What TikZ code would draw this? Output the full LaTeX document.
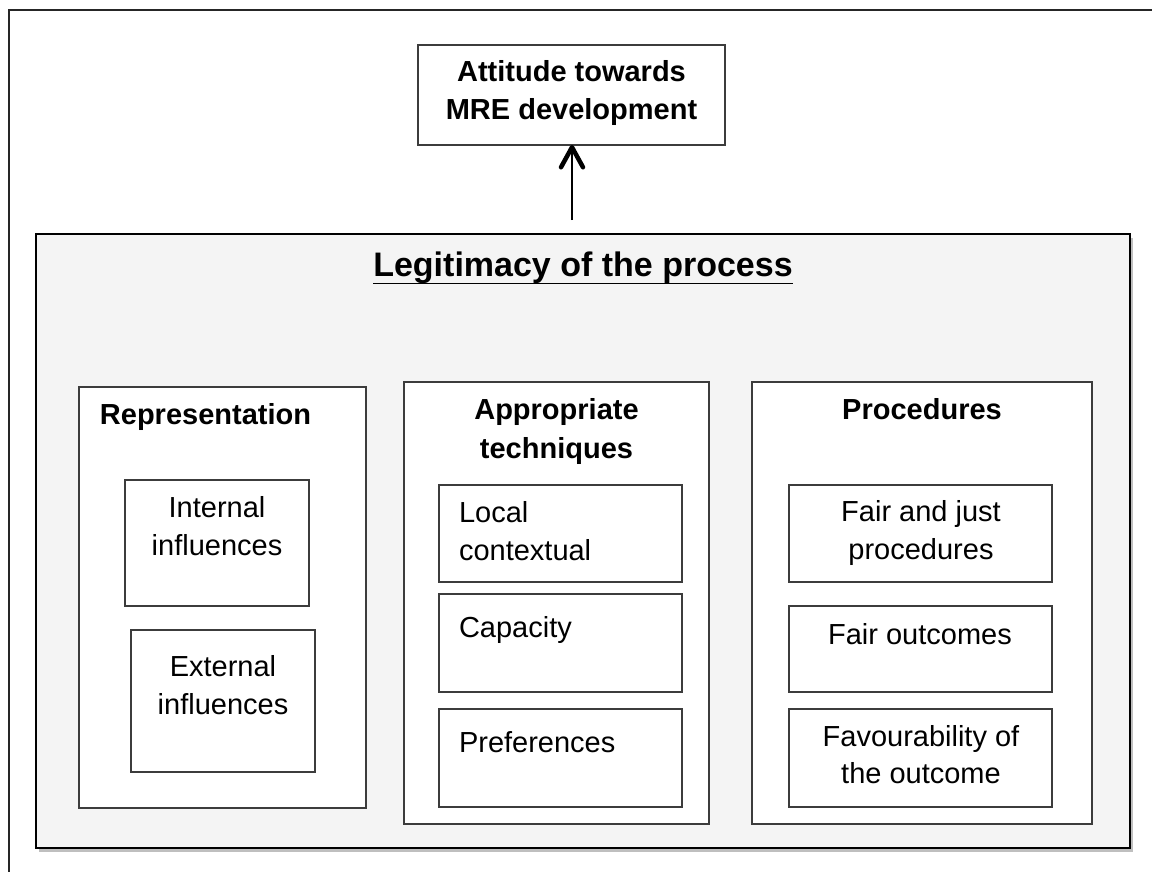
\documentclass[tikz,border=0pt]{standalone}
\usepackage{fontspec}
\setmainfont{Liberation Sans}
\usetikzlibrary{arrows.meta,shadows}
\definecolor{panelgray}{RGB}{244,244,244}
\definecolor{boxline}{RGB}{60,60,60}
\newcommand{\mylines}[2]{\begin{tabular}[t]{@{}#1@{}}#2\end{tabular}}
\begin{document}
\begin{tikzpicture}[x=1pt,y=-1pt,
  framestyle/.style={draw=black!85,line width=1.5pt},
  mainpanel/.style={draw=black,line width=2.4pt,fill=panelgray,inner sep=0pt,outer sep=0pt,anchor=north west,
    drop shadow={shadow xshift=3pt,shadow yshift=-4pt,opacity=0.45,fill=black!55}},
  colbox/.style={draw=boxline,line width=1.3pt,fill=white,inner sep=0pt,outer sep=0pt,anchor=north west},
  itembox/.style={draw=boxline,line width=1.3pt,fill=white,inner sep=0pt,outer sep=0pt,anchor=north west},
  topbox/.style={draw=boxline,line width=1.3pt,fill=white,inner sep=0pt,outer sep=0pt,anchor=north west},
  txt/.style={inner sep=0pt,outer sep=0pt,anchor=base,font=\fontsize{29}{38.5}\selectfont},
  txtl/.style={txt,anchor=base west},
  head/.style={txt,font=\fontsize{29}{39}\selectfont\bfseries},
  titletxt/.style={inner sep=0pt,outer sep=0pt,anchor=base,font=\fontsize{34}{40}\selectfont\bfseries},
  arrowline/.style={line width=2pt,-{Straight Barb[length=20pt,width=22pt,line width=4.5pt,round]}}
]
\useasboundingbox (0,0) rectangle (1152,872);
\fill[white] (0,0) rectangle (1152,872);
% outer frame (partly cropped)
\draw[framestyle] (9,872) -- (9,10) -- (1152,10);

% top box
\node[topbox,minimum width=307pt,minimum height=100pt] (top) at (418,45) {};
\node[head,font=\fontsize{29}{38}\selectfont\bfseries] (toptxt) at (571.5,82) {\mylines{c}{Attitude towards\\MRE development}};

% main panel
\node[mainpanel,minimum width=1094pt,minimum height=614pt] (main) at (36,234) {};
\node[titletxt] (title) at (583,276) {Legitimacy of the process};
\draw[line width=1.8pt] ([yshift=-7.5pt]title.base west) -- ([yshift=-7.5pt]title.base east);

% arrow
\coordinate (arrstart) at (572,220);
\draw[arrowline] (arrstart) -- (arrstart |- top.south);

% column boxes
\node[colbox,minimum width=287pt,minimum height=421pt] (rep) at (79,387) {};
\node[colbox,minimum width=305pt,minimum height=442pt] (app) at (404,382) {};
\node[colbox,minimum width=340pt,minimum height=442pt] (proc) at (752,382) {};

% column headings
\node[head] (reptxt) at (205.5,424) {Representation};
\node[head] (apptxt) at (556.5,419) {\mylines{c}{Appropriate\\techniques}};
\node[head] (proctxt) at (922,419) {Procedures};

% Representation items
\node[itembox,minimum width=184pt,minimum height=126pt] (int) at (125,480) {};
\node[txt] (inttxt) at (217,517) {\mylines{c}{Internal\\influences}};
\node[itembox,minimum width=184pt,minimum height=142pt] (ext) at (131,630) {};
\node[txt] (exttxt) at (223,676) {\mylines{c}{External\\influences}};

% Appropriate techniques items
\node[itembox,minimum width=243pt,minimum height=97pt] (loc) at (439,485) {};
\node[txtl] (loctxt) at (459,522) {\mylines{l}{Local\\contextual}};
\node[itembox,minimum width=243pt,minimum height=98pt] (cap) at (439,594) {};
\node[txtl] (captxt) at (459,637) {Capacity};
\node[itembox,minimum width=243pt,minimum height=98pt] (pref) at (439,709) {};
\node[txtl] (preftxt) at (459,752) {Preferences};

% Procedures items
\node[itembox,minimum width=263pt,minimum height=97pt] (fjp) at (789,485) {};
\node[txt] (fjptxt) at (921,521) {\mylines{c}{Fair and just\\procedures}};
\node[itembox,minimum width=263pt,minimum height=86pt] (fo) at (789,606) {};
\node[txt] (fotxt) at (920,644) {Fair outcomes};
\node[itembox,minimum width=263pt,minimum height=98pt] (fav) at (789,709) {};
\node[txt,font=\fontsize{29}{37}\selectfont] (favtxt) at (921,746) {\mylines{c}{Favourability of\\the outcome}};
\end{tikzpicture}
\end{document}
